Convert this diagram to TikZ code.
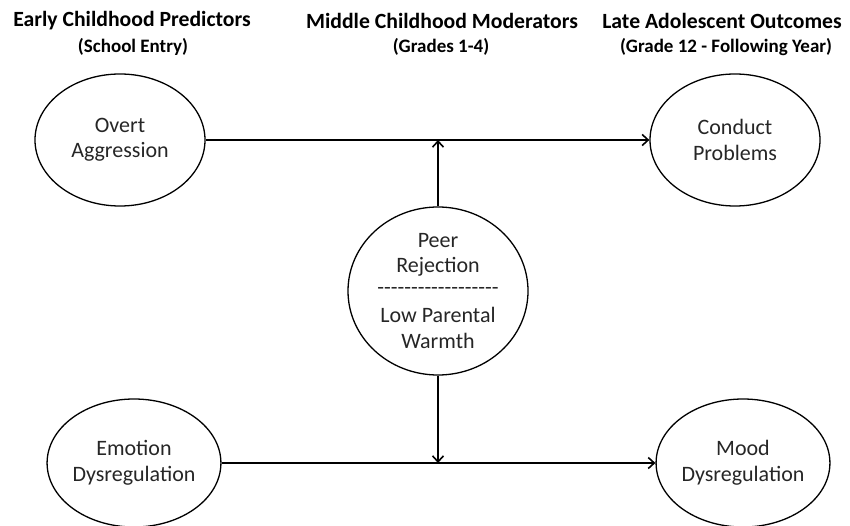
\documentclass[tikz,border=0pt]{standalone}
\usepackage{fontspec}
\setmainfont{Carlito}
\usepackage{tikz}
\usetikzlibrary{arrows.meta,
                shapes.geometric}
\tikzset{
        oval/.style={draw, ellipse, line width=1.3pt, minimum width=170pt,
                     minimum height=132pt, align=center, inner sep=0pt,
                     font=\fontsize{22}{25.5}\selectfont, text=black!85},
        modoval/.style={oval, minimum width=180pt, minimum height=168pt},
        head/.style={font=\bfseries\fontsize{21.7}{24}\selectfont},
        subhead/.style={font=\bfseries\fontsize{19}{22}\selectfont},
        myarrow/.style={-{Straight Barb[length=6pt, width=11pt, line width=1.6pt]},
                        line width=2pt},
 }
\newcommand{\hyrow}{-{}-{}-{}-{}-{}-{}-{}-{}-{}-{}-{}-{}-{}-{}-{}-{}-{}-{}}

\begin{document}
\begin{tikzpicture}[x=1pt, y=-1pt]
    \useasboundingbox (0,0) rectangle (850,526);

    % column titles
    \node[head] (predhead) at (132,21) {Early Childhood Predictors};
    \node[subhead] (predsub) at (133,47) {(School Entry)};
    \node[head] (modhead) at (442,21) {Middle Childhood Moderators};
    \node[subhead] (modsub) at (441,47) {(Grades 1-4)};
    \node[head] (outhead) at (722,21) {Late Adolescent Outcomes};
    \node[subhead] (outsub) at (726,47) {(Grade 12 - Following Year)};

    \node[oval] (aggr) at (120,140) {Overt\\Aggression};
    \node[oval] (cond) at (735,140) {Conduct\\Problems};
    \node[oval, minimum height=128pt] (emot) at (134,463) {Emotion\\Dysregulation};
    \node[oval, minimum height=128pt] (mood) at (743,463) {Mood\\Dysregulation};
    \node[modoval] (mod) at (438,291)
         {Peer\\Rejection\\[-4pt]\hyrow\\[3pt]Low Parental\\Warmth};

    \draw[myarrow] (aggr) -- (cond);
    \draw[myarrow] (emot) -- (mood);
    \draw[myarrow] (mod.north) -- (mod.north |- aggr.east);
    \draw[myarrow] (mod.south) -- (mod.south |- emot.east);

\end{tikzpicture}
\end{document}
